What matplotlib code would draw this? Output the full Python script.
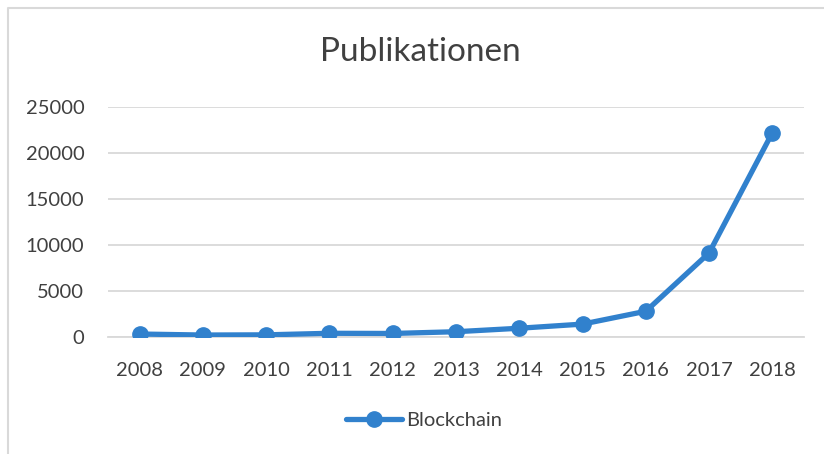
import matplotlib
matplotlib.use("Agg")
import matplotlib.pyplot as plt
from matplotlib.lines import Line2D

years = ["2008", "2009", "2010", "2011", "2012", "2013", "2014", "2015", "2016", "2017", "2018"]
blockchain = [270, 160, 180, 350, 330, 520, 900, 1350, 2750, 9100, 22200]
yticks = [0, 5000, 10000, 15000, 20000, 25000]

W, H = 824, 454
fig = plt.figure(figsize=(W / 100, H / 100), dpi=100)
font = "Lato"
tc = "#404040"
blue = "#3181CD"

ax = fig.add_axes([108 / W, 1 - 336.5 / H, (804 - 108) / W, (336.5 - 107) / H])
x = list(range(len(years)))
ax.plot(x, blockchain, color=blue, lw=3.8, marker="o", ms=11,
        solid_capstyle="round", solid_joinstyle="round", zorder=3)
ax.set_xlim(-0.5, len(years) - 0.5)
ax.set_ylim(0, 25000)
ax.set_yticks(yticks)
ax.set_yticklabels([str(v) for v in yticks], fontfamily=font, fontsize=14.5, color=tc)
ax.set_xticks(x)
ax.set_xticklabels(years, fontfamily=font, fontsize=14.5, color=tc)
ax.tick_params(axis="y", length=0, pad=17)
ax.tick_params(axis="x", length=0, pad=18)
ax.grid(axis="y", color="#d9d9d9", lw=1.3)
ax.set_axisbelow(True)
for s in ["top", "right", "left"]:
    ax.spines[s].set_visible(False)
ax.spines["bottom"].set_color("#d9d9d9")
ax.spines["bottom"].set_linewidth(1.3)

fig.text(420 / W, 1 - 52 / H, "Publikationen", ha="center", va="center",
         fontfamily=font, fontsize=24, color=tc)

# Legend
leg_handle = Line2D([], [], color=blue, lw=3.8, marker="o", ms=11, solid_capstyle="round")
fig.legend(handles=[leg_handle], labels=["Blockchain"], loc="center",
           bbox_to_anchor=(424 / W, 1 - 420 / H), frameon=False,
           prop={"family": font, "size": 14.5}, labelcolor=tc,
           handlelength=2.8, handletextpad=0.2)

# Chart border (partially cropped)
bx = 8 / W
by = 1 - 8 / H
fig.add_artist(Line2D([bx, bx, 1.05], [-0.05, by, by], transform=fig.transFigure,
                      color="#d9d9d9", lw=1.5))

fig.savefig("out.png", dpi=100)
